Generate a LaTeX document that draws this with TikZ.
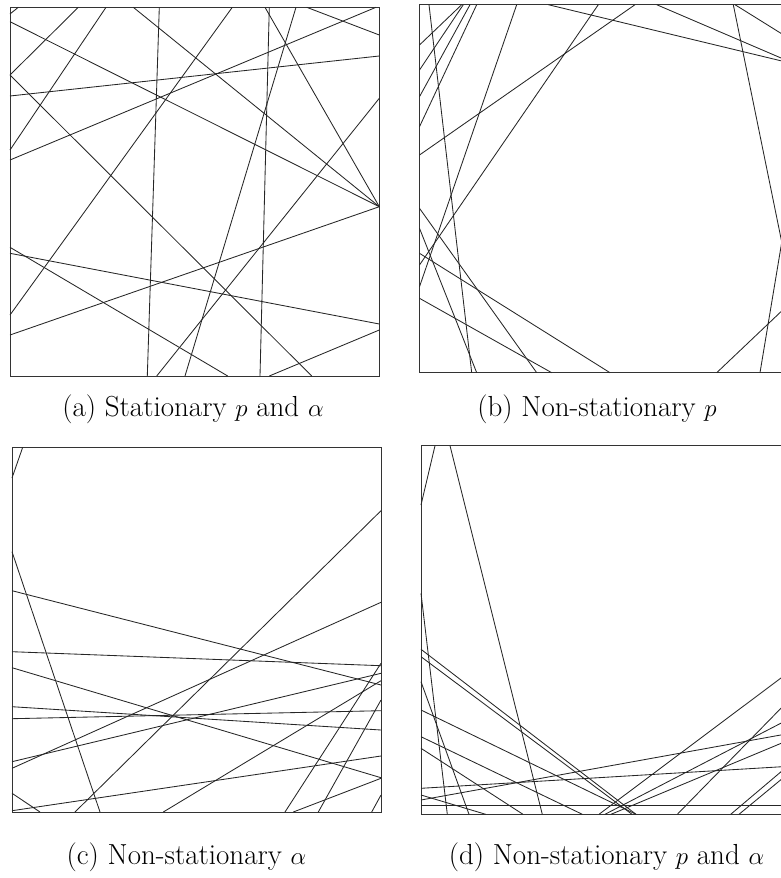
\documentclass[tikz,border=0pt]{standalone}
\begin{document}
\begin{tikzpicture}[x=1pt,y=-1pt,
  ln/.style={line width=0.85pt,black!85},
  frame/.style={line width=0.9pt,black!80},
  captext/.style={anchor=base,inner sep=0pt,font=\fontsize{29}{34}\selectfont}]
\useasboundingbox (0,0) rectangle (781,878);
\clip (0,0) rectangle (781,878);
% ---------- panel (a)
\draw[frame] (10,7.3) rectangle (379.3,376);
\draw[ln] (10,21.7)--(379.3,206.7);
\draw[ln] (10,75)--(78.3,7.3);
\draw[ln] (10,75)--(311.7,376);
\draw[ln] (10,150)--(106,7.3);
\draw[ln] (10,160)--(376,7.3);
\draw[ln] (10,96)--(379.3,56);
\draw[ln] (133.3,7.3)--(379.3,206.7);
\draw[ln] (159.3,7.3)--(147.3,376);
\draw[ln] (269.3,7.3)--(260,376);
\draw[ln] (265,7.3)--(379.3,206.7);
\draw[ln] (296,7.3)--(185,376);
\draw[ln] (232.3,7.3)--(10,315);
\draw[ln] (306.7,7.3)--(379.3,35);
\draw[ln] (10,247.3)--(227.7,376);
\draw[ln] (10,253.3)--(379.3,324);
\draw[ln] (10,335)--(379.3,206.7);
\draw[ln] (379.3,98.3)--(156.7,376);
\draw[ln] (379.3,330)--(269.3,376);
\draw[ln] (10,14)--(18.3,7.3);
% ---------- panel (b)
\draw[frame] (419.5,4.7) rectangle (788,372.7);
\draw[ln] (429,4.7)--(471.7,372.7);
\draw[ln] (419.5,228.3)--(476.7,372.7);
\draw[ln] (461.7,4.7)--(419.5,45);
\draw[ln] (463.3,4.7)--(419.5,70);
\draw[ln] (470,4.7)--(419.5,96.7);
\draw[ln] (476.7,4.7)--(419.5,126.7);
\draw[ln] (516.7,4.7)--(419.5,286.7);
\draw[ln] (548.3,4.7)--(788,62.5);
\draw[ln] (598.3,4.7)--(419.5,265);
\draw[ln] (635,4.7)--(419.5,155);
\draw[ln] (656.7,4.7)--(788,61);
\draw[ln] (733.3,4.7)--(788,272.7);
\draw[ln] (760,372.7)--(788,204.7);
\draw[ln] (735,4.7)--(788,37.7);
\draw[ln] (716.7,372.7)--(788,305);
\draw[ln] (419.5,208.3)--(536.7,372.7);
\draw[ln] (419.5,253.3)--(610,372.7);
\draw[ln] (419.5,298.3)--(551.7,372.7);
% ---------- panel (c)
\draw[frame] (12,447.3) rectangle (381,812);
\draw[ln] (22.7,447.3)--(12,478);
\draw[ln] (12,551.7)--(100,812);
\draw[ln] (12,590.7)--(381,685);
\draw[ln] (12,651.7)--(381,665.7);
\draw[ln] (12,667.7)--(381,777.7);
\draw[ln] (12,706.7)--(381,730);
\draw[ln] (12,718.7)--(381,710.7);
\draw[ln] (12,768.3)--(381,602.3);
\draw[ln] (12,761.7)--(381,673.3);
\draw[ln] (75,812)--(381,510.7);
\draw[ln] (12,793.3)--(40,812);
\draw[ln] (12,810.7)--(381,756);
\draw[ln] (163.3,812)--(381,680.7);
\draw[ln] (285,812)--(381,663.3);
\draw[ln] (293.3,812)--(381,778.3);
\draw[ln] (318.3,812)--(381,700);
\draw[ln] (371.7,812)--(381,795);
% ---------- panel (d)
\draw[frame] (421,445.7) rectangle (789,814.3);
\draw[ln] (435,445.7)--(421,505);
\draw[ln] (450,445.7)--(542.3,814.3);
\draw[ln] (421,593.3)--(447.3,814.3);
\draw[ln] (421,681.7)--(469,814.3);
\draw[ln] (421,649.3)--(636,814.3);
\draw[ln] (421,656.7)--(632,814.3);
\draw[ln] (421,710)--(636,814.3);
\draw[ln] (421,736.7)--(582.3,814.3);
\draw[ln] (421,748.3)--(523,814.3);
\draw[ln] (421,795)--(485.7,814.3);
\draw[ln] (421,788.3)--(789,766.3);
\draw[ln] (421,800)--(789,733.5);
\draw[ln] (421,805)--(789,805);
\draw[ln] (599,814.3)--(789,672);
\draw[ln] (677.3,814.3)--(789,700);
\draw[ln] (605,814.3)--(789,719);
\draw[ln] (611,814.3)--(789,740);
\draw[ln] (730.7,814.3)--(789,765);
\draw[ln] (739,814.3)--(789,773);
% ---------- captions
\node[captext] (capa) at (193,416) {(a) Stationary $p$ and $\alpha$};
\node[captext] (capb) at (597,416) {(b) Non-stationary $p$};
\node[captext] (capc) at (186.5,864) {(c) Non-stationary $\alpha$};
\node[captext] (capd) at (606.5,864) {(d) Non-stationary $p$ and $\alpha$};
\end{tikzpicture}
\end{document}
